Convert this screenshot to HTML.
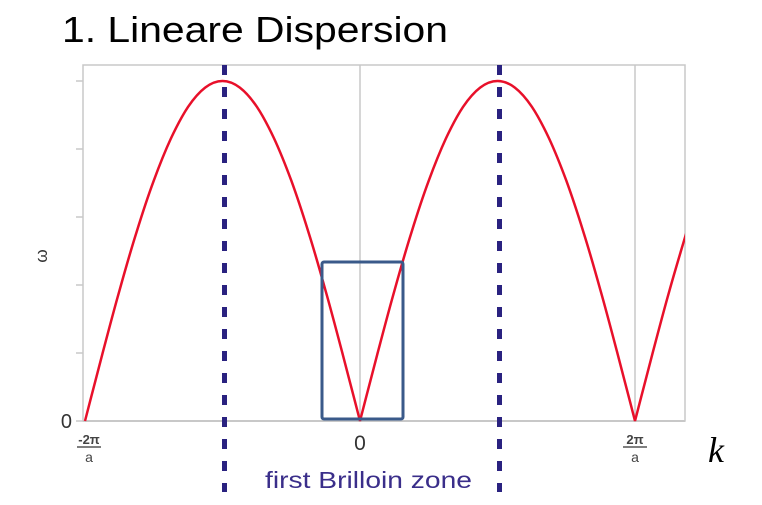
<!DOCTYPE html>
<html><head><meta charset="utf-8"><style>
body{margin:0;background:#fff;width:762px;height:505px;overflow:hidden}
svg{display:block}
</style></head><body>
<svg id="chart" width="762" height="505" xmlns="http://www.w3.org/2000/svg">
<text x="62" y="42" font-family="Liberation Sans, sans-serif" font-size="36" textLength="386" lengthAdjust="spacingAndGlyphs" fill="#000">1. Lineare Dispersion</text>
<rect x="83" y="65" width="602" height="356" fill="none" stroke="#c8c8c8" stroke-width="1.5"/>
<g id="grid"></g>
<g id="yticks"></g>
<line x1="83" y1="421" x2="685" y2="421" stroke="#c8c8c8" stroke-width="2"/>
<defs><clipPath id="cp"><rect x="83" y="60" width="602" height="365"/></clipPath></defs>
<path id="curve" fill="none" stroke="#e8102a" stroke-width="2.5" clip-path="url(#cp)"/>
<g id="zones"></g>
<rect x="322" y="262" width="81" height="157" rx="2" fill="none" stroke="#3a5a8a" stroke-width="3"/>
<text x="72" y="428" font-family="Liberation Sans, sans-serif" font-size="20" fill="#333" text-anchor="end">0</text>
<g id="xlabels"></g>
<text transform="translate(47,256) rotate(-90)" font-family="Liberation Sans, sans-serif" font-size="17" fill="#333" text-anchor="middle">ω</text>
<text x="708" y="462" font-family="Liberation Serif, serif" font-style="italic" font-size="36" fill="#000">k</text>
<text x="265" y="488" font-family="Liberation Sans, sans-serif" font-size="23" textLength="207" lengthAdjust="spacingAndGlyphs" fill="#3a2e8a">first Brilloin zone</text>
</svg>
<script>
// k in units of pi/a, omega normalized to max
const kValues=[-2,-1.875,-1.75,-1.625,-1.5,-1.375,-1.25,-1.125,-1,-0.875,-0.75,-0.625,-0.5,-0.375,-0.25,-0.125,0,0.125,0.25,0.375,0.5,0.625,0.75,0.875,1,1.125,1.25,1.375,1.5,1.625,1.75,1.875,2,2.125,2.25,2.375];
const omegaValues=[0,0.195,0.383,0.556,0.707,0.831,0.924,0.981,1,0.981,0.924,0.831,0.707,0.556,0.383,0.195,0,0.195,0.383,0.556,0.707,0.831,0.924,0.981,1,0.981,0.924,0.831,0.707,0.556,0.383,0.195,0,0.195,0.383,0.556];
const yTickValues=[0,0.2,0.4,0.6,0.8,1];
const zoneBounds=[-1,1];
const gridK=[0,2];
const xTickK=[-2,0,2];
const xTickLabels=["-2π","0","2π"];
const xS=k=>360+k*137.5;
const yS=w=>421-w*340;
const ns="http://www.w3.org/2000/svg";
function mk(t,a,p){const e=document.createElementNS(ns,t);for(const k in a)e.setAttribute(k,a[k]);p.appendChild(e);return e;}
const grid=document.getElementById('grid');
gridK.forEach(k=>{const l=mk('line',{x1:xS(k),y1:65,x2:xS(k),y2:421,stroke:'#c8c8c8','stroke-width':1.5},grid);

});
const yt=document.getElementById('yticks');
yTickValues.forEach(v=>{const l=mk('line',{x1:76,y1:yS(v),x2:83,y2:yS(v),stroke:'#c8c8c8','stroke-width':1.5},yt);

});
// smooth Catmull-Rom curve, split at cusps (omega==0)
const pts=kValues.map((k,i)=>[xS(k),yS(omegaValues[i])]);
let d='M'+pts[0][0].toFixed(1)+','+pts[0][1].toFixed(1);
for(let i=0;i<pts.length-1;i++){
  const p1=pts[i],p2=pts[i+1];
  const p0=(i>0&&omegaValues[i]!==0)?pts[i-1]:[2*p1[0]-p2[0],2*p1[1]-p2[1]];
  const p3=(i+2<pts.length&&omegaValues[i+1]!==0)?pts[i+2]:[2*p2[0]-p1[0],2*p2[1]-p1[1]];
  const c1=[p1[0]+(p2[0]-p0[0])/6,p1[1]+(p2[1]-p0[1])/6];
  const c2=[p2[0]-(p3[0]-p1[0])/6,p2[1]-(p3[1]-p1[1])/6];
  d+='C'+c1[0].toFixed(1)+','+c1[1].toFixed(1)+' '+c2[0].toFixed(1)+','+c2[1].toFixed(1)+' '+p2[0].toFixed(1)+','+p2[1].toFixed(1);
}
document.getElementById('curve').setAttribute('d',d);
const z=document.getElementById('zones');
zoneBounds.forEach(k=>{const l=mk('line',{x1:xS(k)+2,y1:65,x2:xS(k)+2,y2:492,stroke:'#2a2280','stroke-width':5,'stroke-dasharray':'10 12'},z);

});
const xl=document.getElementById('xlabels');
xTickK.forEach((k,i)=>{const x=xS(k)+(k<0?4:0);
if(k===0){const t=mk('text',{x:x,y:450,'font-family':'Liberation Sans, sans-serif','font-size':21,fill:'#333','text-anchor':'middle'},xl);t.textContent=xTickLabels[i];

}
else{const t=mk('text',{x:x,y:444,'font-family':'Liberation Sans, sans-serif','font-size':13,'font-weight':'bold',fill:'#444','text-anchor':'middle'},xl);t.textContent=xTickLabels[i];


const l=mk('line',{x1:x-12,y1:447,x2:x+12,y2:447,stroke:'#555','stroke-width':1.5},xl);


const dd=mk('text',{x:x,y:462,'font-family':'Liberation Sans, sans-serif','font-size':14,fill:'#444','text-anchor':'middle'},xl);dd.textContent='a';

}});
</script>
</body></html>
